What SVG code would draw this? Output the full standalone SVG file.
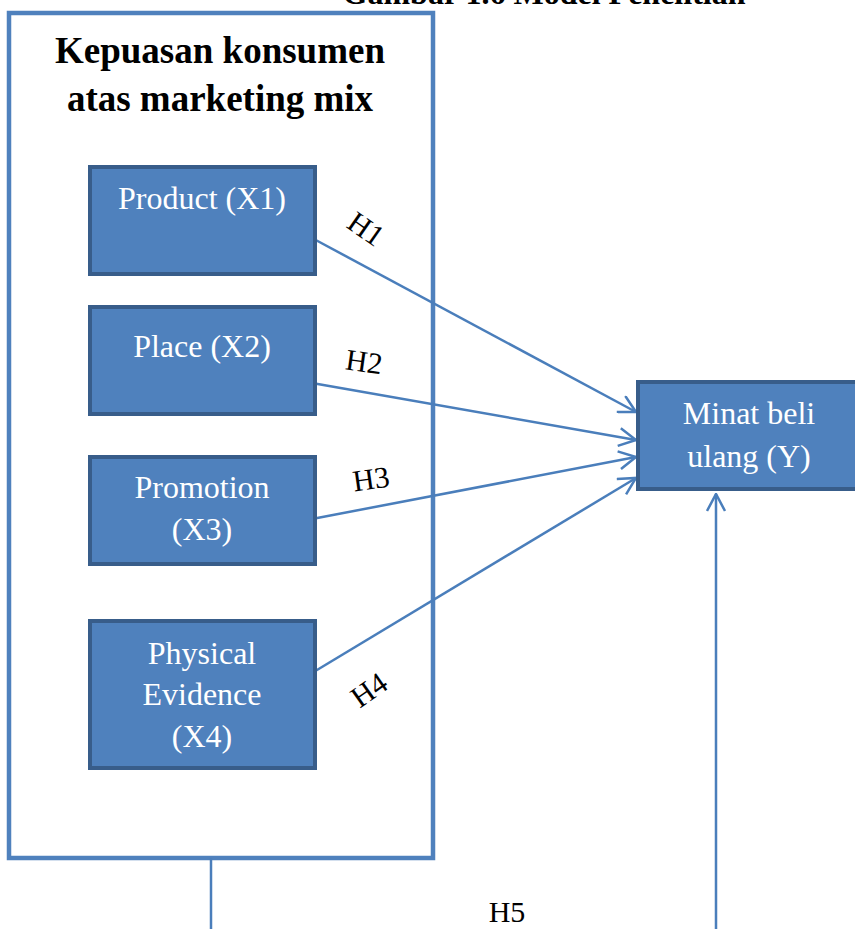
<svg xmlns="http://www.w3.org/2000/svg" width="855" height="929" viewBox="0 0 855 929">
<style>
.box{fill:#4F81BD;stroke:#385D8A;stroke-width:4}
.bt{font-family:"Liberation Serif",serif;font-size:32px;fill:#ffffff;text-anchor:middle}
.lbl{font-family:"Liberation Serif",serif;font-size:30px;fill:#000;text-anchor:middle}
.ttl{font-family:"Liberation Serif",serif;font-size:37px;font-weight:bold;fill:#000;text-anchor:middle}
.con{stroke:#4A7EBB;stroke-width:2.5;fill:none}
</style>
<defs>
<marker id="arr" viewBox="0 0 20 20" refX="19" refY="10" markerWidth="20" markerHeight="20" markerUnits="userSpaceOnUse" orient="auto">
<path d="M2,1 L19,10 L2,19" fill="none" stroke="#4A7EBB" stroke-width="2.5"/>
</marker>
</defs>
<text x="544" y="4" class="ttl" style="font-size:32px">Gambar 1.6 Model Penelitian</text>
<g id="outer">
<rect x="9" y="13" width="424" height="845" fill="#fff" stroke="#4F81BD" stroke-width="4.5"/>
<text x="220" y="63" class="ttl">Kepuasan konsumen</text>
<text x="220" y="111" class="ttl">atas marketing mix</text>
</g>
<g id="connectors">
<line class="con" x1="312" y1="238" x2="636" y2="412" marker-end="url(#arr)"/>
<line class="con" x1="312" y1="383" x2="636" y2="440" marker-end="url(#arr)"/>
<line class="con" x1="312" y1="519" x2="636" y2="457" marker-end="url(#arr)"/>
<line class="con" x1="312" y1="673" x2="636" y2="478" marker-end="url(#arr)"/>
<line class="con" x1="211" y1="858" x2="211" y2="929"/>
<line class="con" x1="716" y1="929" x2="716" y2="494" marker-end="url(#arr)"/>
<text class="lbl" transform="translate(366,229) rotate(35)" y="10">H1</text>
<text class="lbl" transform="translate(364,362) rotate(8)" y="10">H2</text>
<text class="lbl" transform="translate(371,479) rotate(-8)" y="10">H3</text>
<text class="lbl" transform="translate(369,690) rotate(-35)" y="10">H4</text>
<text class="lbl" x="507" y="922">H5</text>
</g>
<g id="x1">
<rect class="box" x="90" y="167" width="225" height="107"/>
<text class="bt" x="202" y="209">Product (X1)</text>
</g>
<g id="x2">
<rect class="box" x="90" y="307" width="225" height="107"/>
<text class="bt" x="202" y="357">Place (X2)</text>
</g>
<g id="x3">
<rect class="box" x="90" y="457" width="225" height="107"/>
<text class="bt" x="202" y="498">Promotion</text>
<text class="bt" x="202" y="540">(X3)</text>
</g>
<g id="x4">
<rect class="box" x="90" y="621" width="225" height="147"/>
<text class="bt" x="202" y="664">Physical</text>
<text class="bt" x="202" y="705">Evidence</text>
<text class="bt" x="202" y="747">(X4)</text>
</g>
<g id="y">
<rect class="box" x="638" y="382" width="230" height="107"/>
<text class="bt" x="749" y="424">Minat beli</text>
<text class="bt" x="749" y="467">ulang (Y)</text>
</g>
</svg>
